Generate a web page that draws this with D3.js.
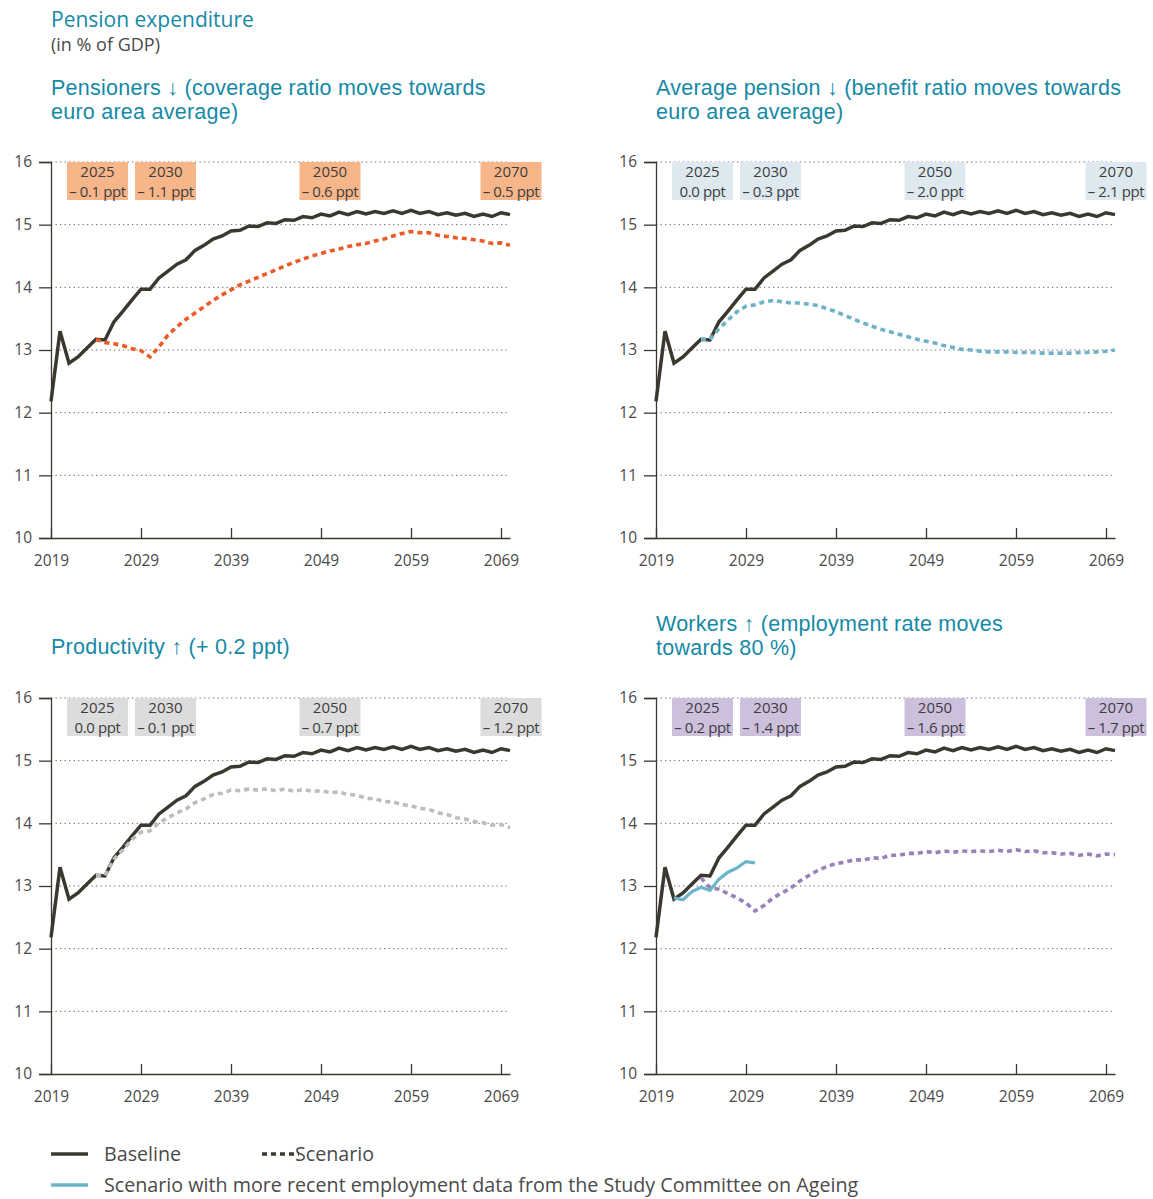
<!DOCTYPE html>
<html>
<head>
<meta charset="utf-8">
<script src="https://cdn.jsdelivr.net/npm/d3@7"></script>
<style>
  html, body { margin: 0; padding: 0; background: #fff; }
  svg { display: block; font-family: "Open Sans", "Noto Sans", sans-serif; }
</style>
</head>
<body>
<svg id="chart" width="1153" height="1199"></svg>
<script>
// ---------------- DATA ----------------
const years = d3.range(2019, 2071);
const baseline = [12.18, 13.30, 12.79, 12.89, 13.03, 13.17, 13.16, 13.45, 13.62, 13.80,
  13.97, 13.97, 14.15, 14.26, 14.37, 14.44, 14.59, 14.67, 14.77, 14.82,
  14.90, 14.91, 14.98, 14.97, 15.03, 15.02, 15.08, 15.07, 15.13, 15.11,
  15.17, 15.14, 15.20, 15.16, 15.21, 15.17, 15.21, 15.18, 15.22, 15.18,
  15.23, 15.18, 15.21, 15.16, 15.19, 15.15, 15.18, 15.13, 15.17, 15.13,
  15.19, 15.16];

const scenarioYears = d3.range(2024, 2071);
const scenarioPensioners = [13.17, 13.12, 13.10, 13.07, 13.02, 12.99, 12.89, 13.05, 13.24, 13.37,
  13.49, 13.59, 13.69, 13.79, 13.88, 13.96, 14.04, 14.10, 14.16, 14.22,
  14.28, 14.34, 14.40, 14.45, 14.50, 14.54, 14.58, 14.61, 14.65, 14.68,
  14.70, 14.74, 14.77, 14.82, 14.86, 14.89, 14.87, 14.87, 14.83, 14.81,
  14.79, 14.78, 14.76, 14.74, 14.70, 14.71, 14.67];
const scenarioAveragePension = [13.17, 13.17, 13.34, 13.48, 13.61, 13.70, 13.72, 13.77, 13.79, 13.77,
  13.75, 13.75, 13.73, 13.71, 13.66, 13.61, 13.55, 13.49, 13.43, 13.38,
  13.33, 13.29, 13.25, 13.21, 13.17, 13.14, 13.11, 13.07, 13.04, 13.01,
  13.00, 12.98, 12.97, 12.97, 12.97, 12.96, 12.96, 12.96, 12.95, 12.95,
  12.95, 12.95, 12.96, 12.96, 12.97, 12.98, 13.00];
const scenarioProductivity = [13.17, 13.17, 13.43, 13.58, 13.74, 13.86, 13.88, 14.01, 14.09, 14.17,
  14.23, 14.33, 14.39, 14.46, 14.48, 14.53, 14.52, 14.55, 14.53, 14.55,
  14.52, 14.55, 14.51, 14.54, 14.51, 14.52, 14.49, 14.50, 14.46, 14.45,
  14.40, 14.39, 14.35, 14.34, 14.30, 14.28, 14.24, 14.22, 14.17, 14.14,
  14.09, 14.07, 14.03, 14.01, 13.97, 13.98, 13.93];
const scenarioWorkers = [13.13, 12.97, 12.95, 12.88, 12.81, 12.73, 12.60, 12.69, 12.81, 12.89,
  12.97, 13.08, 13.17, 13.25, 13.31, 13.36, 13.38, 13.42, 13.41, 13.45,
  13.44, 13.49, 13.49, 13.52, 13.52, 13.55, 13.53, 13.56, 13.54, 13.56,
  13.55, 13.56, 13.55, 13.57, 13.55, 13.58, 13.55, 13.56, 13.53, 13.53,
  13.51, 13.52, 13.49, 13.51, 13.48, 13.51, 13.50];

const recentYears = d3.range(2021, 2031);
const recentEmployment = [12.81, 12.78, 12.91, 12.98, 12.93, 13.11, 13.22, 13.29, 13.39, 13.37];

const yTicks = [10, 11, 12, 13, 14, 15, 16];
const xTicks = [2019, 2029, 2039, 2049, 2059, 2069];
const annotationYears = [2025, 2030, 2050, 2070];
const deltasPensioners = ["\u2013 0.1 ppt", "\u2013 1.1 ppt", "\u2013 0.6 ppt", "\u2013 0.5 ppt"];
const deltasAveragePension = ["0.0 ppt", "\u2013 0.3 ppt", "\u2013 2.0 ppt", "\u2013 2.1 ppt"];
const deltasProductivity = ["0.0 ppt", "\u2013 0.1 ppt", "\u2013 0.7 ppt", "\u2013 1.2 ppt"];
const deltasWorkers = ["\u2013 0.2 ppt", "\u2013 1.4 ppt", "\u2013 1.6 ppt", "\u2013 1.7 ppt"];

const mainTitle = "Pension expenditure";
const subTitle = "(in % of GDP)";
const panelTitles = [
  ["Pensioners \u2193 (coverage ratio moves towards", "euro area average)"],
  ["Average pension \u2193 (benefit ratio moves towards", "euro area average)"],
  ["Productivity \u2191 (+ 0.2 ppt)"],
  ["Workers \u2191 (employment rate moves", "towards 80 %)"]
];
const legendLabels = ["Baseline", "Scenario", "Scenario with more recent employment data from the Study Committee on Ageing"];

// ---------------- STYLE / LAYOUT ----------------
const TEAL = "#1589a6";
const TEXT = "#4a4a4a";
const DARK = "#3b382f";

const panels = [
  { left: 51, top: 162, scen: scenarioPensioners, color: "#ee5a26", box: "#f7b68a", deltas: deltasPensioners, title: panelTitles[0], titleY: 95 },
  { left: 656, top: 162, scen: scenarioAveragePension, color: "#6db2c8", box: "#dde9ef", deltas: deltasAveragePension, title: panelTitles[1], titleY: 95 },
  { left: 51, top: 698, scen: scenarioProductivity, color: "#bdbdbd", box: "#dcdcdc", deltas: deltasProductivity, title: panelTitles[2], titleY: 654 },
  { left: 656, top: 698, scen: scenarioWorkers, color: "#9a80b9", box: "#cdc0dd", deltas: deltasWorkers, title: panelTitles[3], titleY: 631, recent: true }
];
const W = 459, H = 376;

const svg = d3.select("#chart");

svg.append("text").attr("x", 51).attr("y", 27).attr("fill", TEAL)
  .attr("font-size", 21).text(mainTitle);
svg.append("text").attr("x", 51).attr("y", 51).attr("fill", TEXT)
  .attr("font-size", 18).text(subTitle);

panels.forEach(p => {
  const g = svg.append("g").attr("transform", `translate(${p.left},${p.top})`);
  const x = d3.scaleLinear().domain([2019, 2070]).range([0, W]);
  const y = d3.scaleLinear().domain([10, 16]).range([H, 0]);

  // title (one text per line)
  p.title.forEach((ln, i) => svg.append("text").attr("x", p.left).attr("y", p.titleY + i * 24)
    .attr("fill", TEAL).attr("font-family", "'Liberation Sans', Arial, sans-serif")
    .attr("font-size", 21.5).attr("letter-spacing", 0.25).text(ln));

  // gridlines
  g.append("g").selectAll("line").data(yTicks.filter(d => d > 10)).join("line")
    .attr("x1", 0).attr("x2", W - 1).attr("y1", d => y(d)).attr("y2", d => y(d))
    .attr("stroke", "#666").attr("stroke-width", 1).attr("stroke-dasharray", "1.3,3.2");

  // y axis
  const ya = g.append("g").call(d3.axisLeft(y).tickValues(yTicks).tickSize(12).tickFormat(d3.format("d")));
  ya.select(".domain").attr("stroke", DARK).attr("stroke-width", 1.3);
  ya.selectAll(".tick line").attr("stroke", DARK).attr("stroke-width", 1.3);
  ya.selectAll("text").attr("fill", TEXT).attr("font-size", 15.5).attr("font-family", "Open Sans, sans-serif").attr("x", -19);

  // x axis
  const xa = g.append("g").attr("transform", `translate(0,${H})`)
    .call(d3.axisBottom(x).tickValues(xTicks).tickSize(-10).tickSizeOuter(0).tickFormat(d3.format("d")));
  xa.select(".domain").attr("stroke", DARK).attr("stroke-width", 1.3);
  xa.selectAll(".tick line").attr("stroke", DARK).attr("stroke-width", 1.3);
  xa.selectAll("text").attr("fill", TEXT).attr("font-size", 15.5).attr("font-family", "Open Sans, sans-serif").attr("y", 17);

  // annotation boxes
  const boxW = 61, boxH = 38;
  const boxLeft = [x(2019) + 16, x(2019) + 84, x(2050) - boxW / 2, x(2070) - boxW / 2 + 1];
  annotationYears.forEach((yr, i) => {
    const bg = g.append("g").attr("transform", `translate(${boxLeft[i]},0)`);
    bg.append("rect").attr("width", boxW).attr("height", boxH).attr("fill", p.box);
    bg.append("text").attr("x", boxW / 2).attr("y", 14.5).attr("text-anchor", "middle")
      .attr("fill", "#3d3d3d").attr("font-size", 15).text(yr);
    bg.append("text").attr("x", boxW / 2).attr("y", 34.5).attr("text-anchor", "middle")
      .attr("fill", "#3d3d3d").attr("font-size", 15).attr("letter-spacing", -0.4).text(p.deltas[i]);
  });

  const line = d3.line().x(d => x(d[0])).y(d => y(d[1]));

  // baseline
  g.append("path").datum(years.map((yr, i) => [yr, baseline[i]]))
    .attr("d", line).attr("fill", "none").attr("stroke", DARK).attr("stroke-width", 3.5)
    .attr("stroke-linejoin", "miter");

  // scenario
  g.append("path").datum(scenarioYears.map((yr, i) => [yr, p.scen[i]]))
    .attr("d", line).attr("fill", "none").attr("stroke", p.color).attr("stroke-width", 3.6)
    .attr("stroke-dasharray", "5,4");

  if (p.recent) {
    g.append("path").datum(recentYears.map((yr, i) => [yr, recentEmployment[i]]))
      .attr("d", line).attr("fill", "none").attr("stroke", "#6cb5c9").attr("stroke-width", 3.2);
  }
});

// legend
const lg = svg.append("g");
lg.append("line").attr("x1", 51).attr("x2", 88).attr("y1", 1154).attr("y2", 1154)
  .attr("stroke", DARK).attr("stroke-width", 3.5);
lg.append("text").attr("x", 104).attr("y", 1161).attr("fill", TEXT).attr("font-size", 19.7).text(legendLabels[0]);
lg.append("line").attr("x1", 262).attr("x2", 299).attr("y1", 1154).attr("y2", 1154)
  .attr("stroke", DARK).attr("stroke-width", 3.5).attr("stroke-dasharray", "5,4");
lg.append("text").attr("x", 295).attr("y", 1161).attr("fill", TEXT).attr("font-size", 19.7).text(legendLabels[1]);
lg.append("line").attr("x1", 51).attr("x2", 88).attr("y1", 1185).attr("y2", 1185)
  .attr("stroke", "#6cb5c9").attr("stroke-width", 3.5);
lg.append("text").attr("x", 104).attr("y", 1192).attr("fill", TEXT).attr("font-size", 19.7).text(legendLabels[2]);
</script>
</body>
</html>
